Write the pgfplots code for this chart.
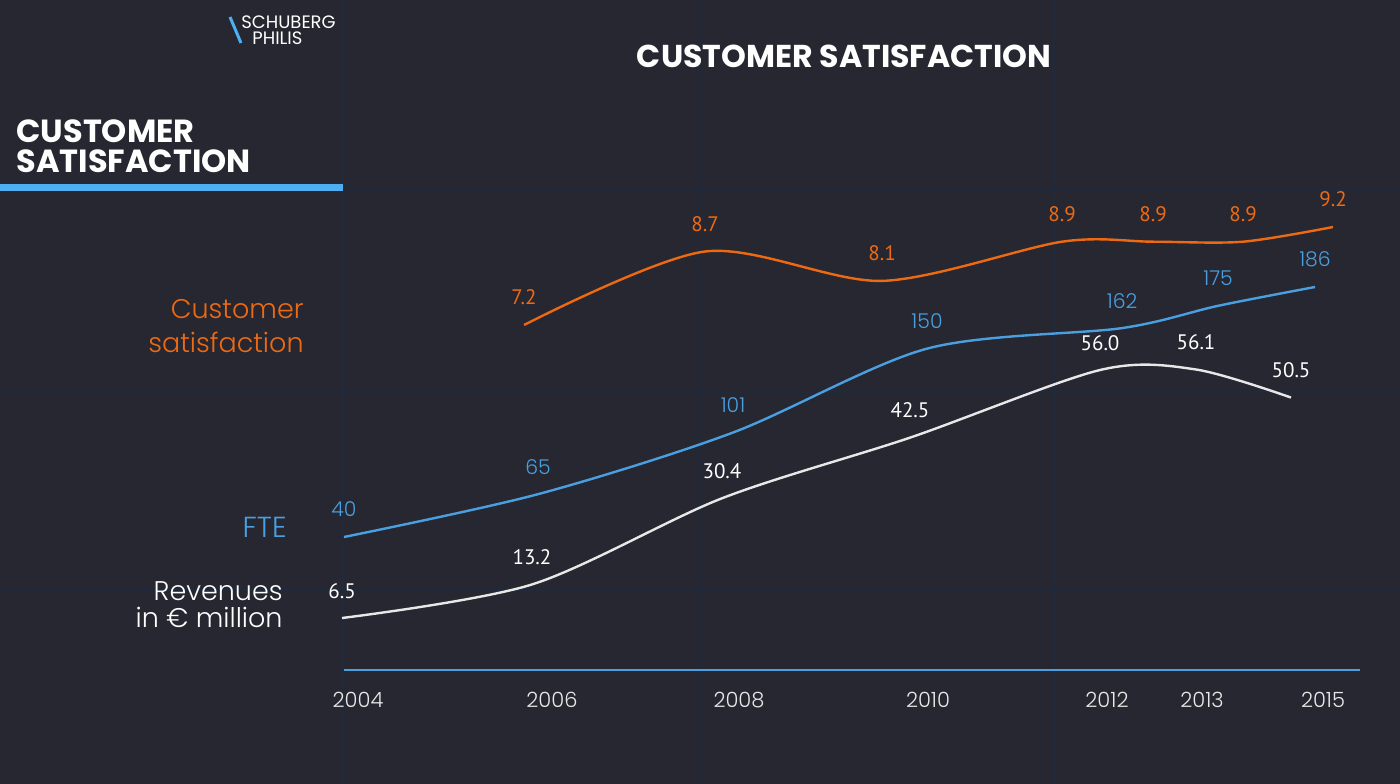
\documentclass[border=0pt]{standalone}
\usepackage{fontspec}
\usepackage{pgfplots}
\pgfplotsset{compat=1.18}
\setmainfont{Poppins}
\newfontfamily\plight{Poppins Light}
\newfontfamily\pbold{Poppins Bold}
\newfontfamily\nsans{PT Sans}
\definecolor{bg}{HTML}{262730}
\definecolor{gridc}{HTML}{1F2A3D}
\definecolor{orng}{HTML}{EE6A12}
\definecolor{fteblue}{HTML}{4A9FE0}
\definecolor{barblue}{HTML}{4DAEF2}
\definecolor{revw}{HTML}{E8E8E8}
\newcommand{\fs}[1]{\fontsize{#1}{#1}\selectfont}
\pgfplotsset{pix/.style={width=700pt,height=391.5pt,scale only axis,xmin=0,xmax=1400,
  hide axis,clip=false,at={(0,0)},anchor=south west},
  lbl/.style={nodes near coords, every node near coord/.append style={anchor=base,inner sep=0pt,yshift=10pt}}}

% x = horizontal position (px), y = value
\pgfplotstableread{
x y
524 7.2
705 8.7
882 8.1
1062 8.9
1153 8.9
1243 8.9
1333 9.2
}\satdata
\pgfplotstableread{
x y
344 40
538 65
733 101
927 150
1122 162
1218 175
1315 186
}\ftedata
\pgfplotstableread{
x y
342 6.5
532 13.2
722 30.4
910 42.5
1100 56.0
1196 56.1
1291 50.5
}\revdata

\begin{document}
\begin{tikzpicture}
\useasboundingbox (0,0) rectangle (700pt,391.5pt);
\fill[bg] (-3pt,-3pt) rectangle (703pt,394.5pt);
\begin{axis}[pix, ymin=0, ymax=783, y dir=reverse]
  \pgfplotsinvokeforeach{343,699,1054}{\draw[gridc, line width=0.6pt] (axis cs:#1,0)--(axis cs:#1,783);}
  \pgfplotsinvokeforeach{190,392,590}{\draw[gridc, line width=0.6pt] (axis cs:0,#1)--(axis cs:1400,#1);}
  \fill[barblue] (axis cs:0,184) rectangle (axis cs:343,191);
  \draw[fteblue, line width=1pt] (axis cs:344,670)--(axis cs:1360,670);
  % logo
  \draw[barblue, line width=1.5pt] (axis cs:230,17)--(axis cs:241,43);
  \node[anchor=base west, inner sep=0pt, white, font=\fs{9}] at (axis cs:241,28) {SCHUBERG};
  \node[anchor=base west, inner sep=0pt, white, font=\fs{9}] at (axis cs:252,44) {PHILIS};
  % titles
  \node[anchor=base, inner sep=0pt, white, font=\pbold\fs{15.8}] at (axis cs:844,67) {CUSTOMER SATISFACTION};
  \node[anchor=base west, inner sep=0pt, white, font=\pbold\fs{16}] at (axis cs:16,142) {CUSTOMER};
  \node[anchor=base west, inner sep=0pt, white, font=\pbold\fs{16}] at (axis cs:16,172) {SATISFACTION};
  % series names
  \node[anchor=base east, inner sep=0pt, orng, font=\plight\fs{13.5}] at (axis cs:304,318) {Customer};
  \node[anchor=base east, inner sep=0pt, orng, font=\plight\fs{13.5}] at (axis cs:304,352) {satisfaction};
  \node[anchor=base east, inner sep=0pt, fteblue, font=\plight\fs{14.5}] at (axis cs:287,537) {FTE};
  \node[anchor=base east, inner sep=0pt, white, font=\plight\fs{13.5}] at (axis cs:283,600) {Revenues};
  \node[anchor=base east, inner sep=0pt, white, font=\plight\fs{13.5}] at (axis cs:283,627) {in € million};
  % year labels
  \node[anchor=base, inner sep=0pt, revw, font=\plight\fs{10.5}] at (axis cs:358,707) {2004};
  \node[anchor=base, inner sep=0pt, revw, font=\plight\fs{10.5}] at (axis cs:552,707) {2006};
  \node[anchor=base, inner sep=0pt, revw, font=\plight\fs{10.5}] at (axis cs:739,707) {2008};
  \node[anchor=base, inner sep=0pt, revw, font=\plight\fs{10.5}] at (axis cs:928,707) {2010};
  \node[anchor=base, inner sep=0pt, revw, font=\plight\fs{10.5}] at (axis cs:1107,707) {2012};
  \node[anchor=base, inner sep=0pt, revw, font=\plight\fs{10.5}] at (axis cs:1202,707) {2013};
  \node[anchor=base, inner sep=0pt, revw, font=\plight\fs{10.5}] at (axis cs:1323,707) {2015};
\end{axis}
% Customer satisfaction
\begin{axis}[pix, ymin=-2.1469, ymax=13.8327]
  \addplot[orng, line width=1.2pt, smooth, lbl,
    nodes near coords style={font=\nsans\fs{10.5}, text=orng},
    /pgf/number format/.cd, assume math mode=true, fixed, fixed zerofill, precision=1] table[x=x,y=y] {\satdata};
\end{axis}
% FTE
\begin{axis}[pix, ymin=-103.67, ymax=353.61]
  \addplot[fteblue, line width=1.2pt, smooth, lbl,
    nodes near coords style={font=\plight\fs{10.2}, text=fteblue},
    /pgf/number format/.cd, assume math mode=true, fixed, precision=0] table[x=x,y=y] {\ftedata};
\end{axis}
% Revenues
\begin{axis}[pix, ymin=-26.43, ymax=129.85]
  \addplot[revw, line width=1.2pt, smooth, lbl,
    nodes near coords style={font=\nsans\fs{10.5}, text=white},
    /pgf/number format/.cd, assume math mode=true, fixed, fixed zerofill, precision=1] table[x=x,y=y] {\revdata};
\end{axis}
\end{tikzpicture}
\end{document}
